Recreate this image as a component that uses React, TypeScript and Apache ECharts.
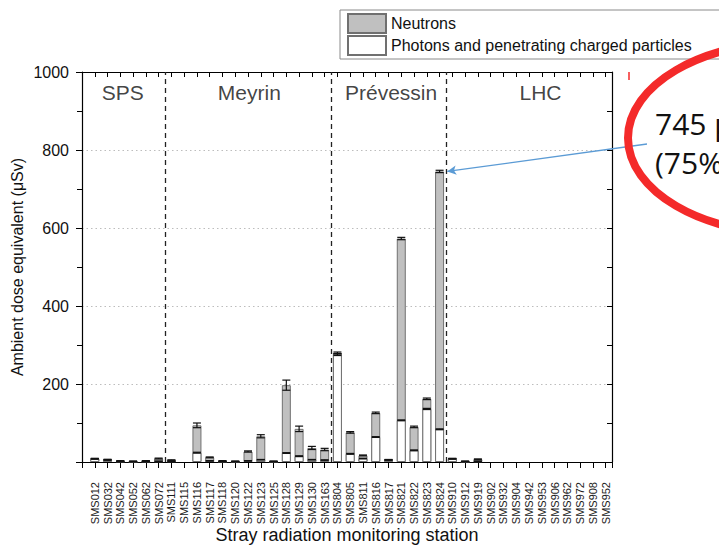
import React, { useEffect, useRef } from 'react';
import * as echarts from 'echarts';

// Monitoring stations along the x axis, grouped by site
const stations = [
  'SMS012', 'SMS032', 'SMS042', 'SMS052', 'SMS062', 'SMS072',
  'SMS111', 'SMS115', 'SMS116', 'SMS117', 'SMS118', 'SMS120', 'SMS122', 'SMS123', 'SMS125', 'SMS128', 'SMS129', 'SMS130', 'SMS163',
  'SMS804', 'SMS805', 'SMS811', 'SMS816', 'SMS817', 'SMS821', 'SMS822', 'SMS823', 'SMS824',
  'SMS910', 'SMS912', 'SMS919', 'SMS902', 'SMS932', 'SMS904', 'SMS942', 'SMS953', 'SMS906', 'SMS962', 'SMS972', 'SMS908', 'SMS952',
];

// Ambient dose equivalent per station (µSv)
const photons = [
  8, 5, 1.5, 1, 1.5, 2,
  2, 0, 24, 3, 1, 1, 3, 6, 1, 23, 15, 6, 5,
  275, 21, 9, 64, 5, 107, 30, 136, 84,
  8, 1, 2, 0, 0, 0, 0, 0, 0, 0, 0, 0, 0,
];
const neutrons = [
  1, 1.5, 1.5, 1, 1.5, 7,
  3, 0, 70, 9, 2, 1, 24, 60, 1, 174, 70, 30, 27,
  5, 55, 8, 62, 1, 466, 60, 26, 661,
  1, 1, 5, 0, 0, 0, 0, 0, 0, 0, 0, 0, 0,
];
const photonErr = [
  0.5, 0.5, 0.3, 0.3, 0.3, 0.5,
  0.5, 0, 1, 0.5, 0.3, 0.3, 0.5, 0.5, 0.3, 1, 1, 0.5, 0.5,
  2, 1, 0.5, 1, 0.5, 1, 1, 1.5, 1,
  0.5, 0.3, 0.3, 0, 0, 0, 0, 0, 0, 0, 0, 0, 0,
];
const neutronErr = [
  0.5, 0.5, 0.5, 0.5, 0.5, 1,
  0.5, 0, 6, 1, 0.5, 0.5, 1.5, 4, 0.5, 13, 7, 4, 3,
  2, 2, 1, 2, 0.5, 3, 2, 2, 3,
  0.5, 0.5, 1, 0, 0, 0, 0, 0, 0, 0, 0, 0, 0,
];

// Site separators and site names
const siteNames = ['SPS', 'Meyrin', 'Prévessin', 'LHC'];
const siteLabelX = [2.2, 12.1, 23.2, 34.9];
const siteBounds = [5.5, 18.5, 27.5];

const highlightStation = 'SMS824';

const FONT = '"Liberation Sans", Arial, Helvetica, sans-serif';
const INK = '#111';

export default function App() {
  const ref = useRef<HTMLDivElement>(null);

  useEffect(() => {
    const chart = echarts.init(ref.current!, null, { renderer: 'svg' });

    const totals = stations.map((_, i) => photons[i] + neutrons[i]);
    // Neutron component sits on top of the photon component: the grey bar spans the
    // full total and the white photon bar is drawn over its lower part.
    const totalData = stations.map((_, i) => [i, totals[i] > 0 ? totals[i] : '-']);
    const photonData = stations.map((_, i) => [i, totals[i] > 0 ? photons[i] : '-']);
    const errData: number[][] = [];
    stations.forEach((_, i) => {
      if (totals[i] > 0) {
        errData.push([i, photons[i], photonErr[i]]);
        errData.push([i, totals[i], neutronErr[i]]);
      }
    });

    const hi = stations.indexOf(highlightStation);

    const axisLine = { show: true, onZero: false, lineStyle: { color: '#000', width: 1.2 } };
    const xCommon = {
      type: 'value' as const,
      min: -1,
      max: 40.5,
      interval: 1,
      splitLine: { show: false },
      axisLine,
    };
    const yCommon = {
      type: 'value' as const,
      min: 0,
      max: 1000,
      interval: 200,
      axisLine,
    };

    chart.setOption({
      animation: false,
      backgroundColor: '#fff',
      textStyle: { fontFamily: FONT },
      grid: { left: 82, right: 107, top: 72, height: 390, containLabel: false, outerBoundsMode: 'none' },
      legend: {
        left: 340,
        top: 10,
        orient: 'vertical',
        selectedMode: false,
        icon: 'rect',
        itemWidth: 38,
        itemHeight: 19,
        itemGap: 1,
        padding: [3, 40, 3, 7],
        backgroundColor: '#fff',
        borderColor: '#8a8a8a',
        borderWidth: 1,
        textStyle: { fontSize: 16, color: INK, fontFamily: FONT },
        data: ['Neutrons', 'Photons and penetrating charged particles'],
      },
      xAxis: [
        {
          ...xCommon,
          position: 'bottom',
          name: 'Stray radiation monitoring station',
          nameLocation: 'middle',
          nameGap: 64,
          nameMoveOverlap: false,
          nameTextStyle: { fontSize: 18, color: INK, fontFamily: FONT },
          axisTick: { show: true, length: 6, lineStyle: { color: '#000', width: 1 } },
          axisLabel: {
            rotate: 90,
            margin: 20,
            fontSize: 11,
            color: '#1a1a1a',
            fontFamily: FONT,
            formatter: (v: number) => (Number.isInteger(v) && v >= 0 && v < stations.length ? stations[v] : ''),
          },
        },
        {
          ...xCommon,
          position: 'top',
          axisTick: { show: true, inside: true, length: 5, lineStyle: { color: '#000', width: 1 } },
          axisLabel: { show: false },
        },
      ],
      yAxis: [
        {
          ...yCommon,
          position: 'left',
          name: 'Ambient dose equivalent (μSv)',
          nameLocation: 'middle',
          nameGap: 57,
          nameMoveOverlap: false,
          nameTextStyle: { fontSize: 16, color: INK, fontFamily: FONT },
          axisTick: { show: true, length: 6, lineStyle: { color: '#000', width: 1 } },
          minorTick: { show: true, splitNumber: 2, length: 5, lineStyle: { color: '#000', width: 1 } },
          axisLabel: {
            fontSize: 16,
            margin: 13,
            color: INK,
            fontFamily: FONT,
            formatter: (v: number) => (v > 0 ? String(v) : ''),
          },
          splitLine: { show: true, lineStyle: { color: '#bdbdbd', width: 1, type: [1.5, 3] } },
        },
        {
          ...yCommon,
          position: 'right',
          axisTick: { show: true, inside: true, length: 5, lineStyle: { color: '#000', width: 1 } },
          minorTick: { show: true, splitNumber: 2, length: 5, lineStyle: { color: '#000', width: 1 } },
          axisLabel: { show: false },
          splitLine: { show: false },
        },
      ],
      series: [
        {
          name: 'Neutrons',
          type: 'bar',
          barWidth: 9,
          barGap: '-100%',
          xAxisIndex: 0,
          yAxisIndex: 0,
          itemStyle: { color: '#c0c0c0', borderColor: '#707070', borderWidth: 1 },
          data: totalData,
          markLine: {
            silent: true,
            symbol: 'none',
            label: { show: false },
            lineStyle: { color: '#222', width: 1.3, type: [5, 4] },
            data: siteBounds.map((b) => ({ xAxis: b })),
          },
        },
        {
          name: 'Photons and penetrating charged particles',
          type: 'bar',
          barWidth: 9,
          barGap: '-100%',
          xAxisIndex: 0,
          yAxisIndex: 0,
          itemStyle: { color: '#ffffff', borderColor: '#707070', borderWidth: 1 },
          data: photonData,
        },
        {
          name: 'errors',
          type: 'custom',
          xAxisIndex: 0,
          yAxisIndex: 0,
          encode: { x: 0, y: 1 },
          data: errData,
          z: 5,
          renderItem: (_params: any, api: any) => {
            const x = api.value(0);
            const top = api.value(1);
            const err = api.value(2);
            const up = api.coord([x, top + err]);
            const dn = api.coord([x, Math.max(top - err, 0)]);
            const w = 4;
            const style = { stroke: '#111', lineWidth: 1.2, fill: 'none' };
            return {
              type: 'group',
              children: [
                { type: 'line', shape: { x1: up[0], y1: up[1], x2: dn[0], y2: dn[1] }, style },
                { type: 'line', shape: { x1: up[0] - w, y1: up[1], x2: up[0] + w, y2: up[1] }, style },
                { type: 'line', shape: { x1: dn[0] - w, y1: dn[1], x2: dn[0] + w, y2: dn[1] }, style },
              ],
            };
          },
        },
        {
          name: 'sites',
          type: 'scatter',
          xAxisIndex: 0,
          yAxisIndex: 0,
          symbolSize: 0,
          silent: true,
          label: {
            show: true,
            position: 'inside',
            formatter: '{b}',
            fontSize: 21,
            color: INK,
            fontFamily: FONT,
          },
          data: siteNames.map((n, i) => ({ name: n, value: [siteLabelX[i], 947] })),
          markLine: {
            silent: true,
            symbol: ['none', 'arrow'],
            symbolSize: [7, 9],
            label: { show: false },
            lineStyle: { color: '#5b9bd5', width: 1.3, type: 'solid' },
            data: [[{ x: 647, y: 144 }, { coord: [hi + 0.6, totals[hi]] }]],
          },
        },
      ],
      graphic: [
        {
          type: 'ellipse',
          z: 100,
          shape: { cx: 792, cy: 138, rx: 164, ry: 96 },
          style: { fill: 'none', stroke: '#f42a2a', lineWidth: 8 },
        },
        {
          type: 'line',
          z: 100,
          shape: { x1: 629, y1: 72, x2: 629, y2: 80 },
          style: { stroke: '#f42a2a', lineWidth: 1.5 },
        },
        {
          type: 'text',
          z: 101,
          left: 655,
          top: 108,
          style: { text: `${totals[hi]} μSv`, fontSize: 30, fontFamily: '"Open Sans", "Noto Sans", sans-serif', fill: INK },
        },
        {
          type: 'text',
          z: 101,
          left: 655,
          top: 147,
          style: { text: '(75%)', fontSize: 30, fontFamily: '"Open Sans", "Noto Sans", sans-serif', fill: INK },
        },
      ],
    });

    return () => chart.dispose();
  }, []);

  return (
    <div
      ref={ref}
      style={{ position: 'absolute', left: 0, top: 0, width: 719, height: 545, background: '#fff' }}
    />
  );
}
